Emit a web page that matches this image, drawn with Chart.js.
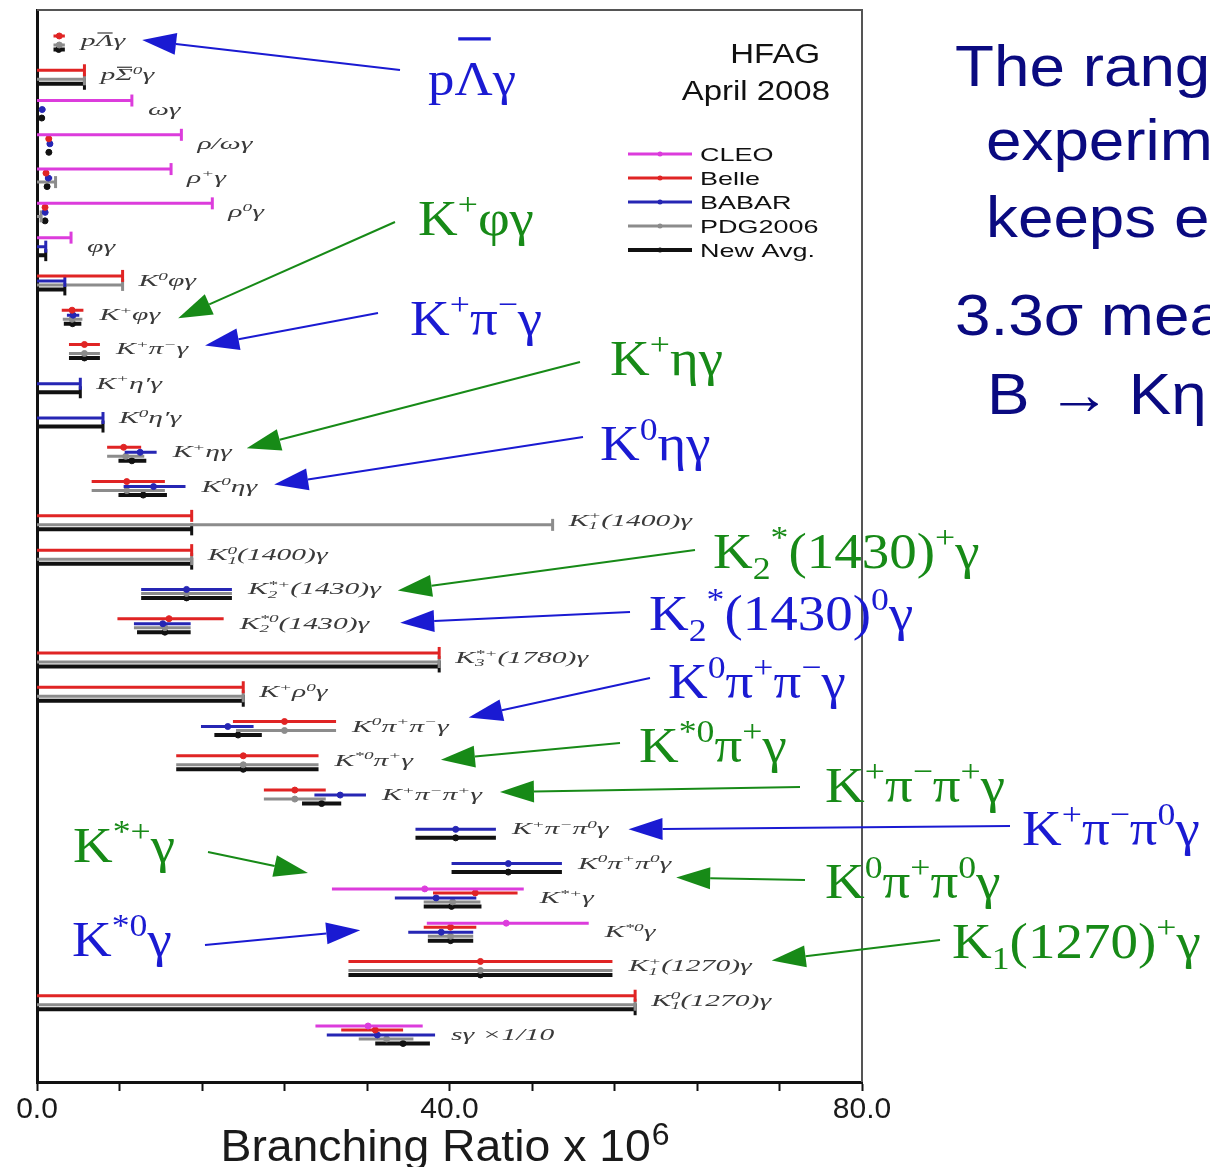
<!DOCTYPE html>
<html>
<head>
<meta charset="utf-8">
<title>Radiative penguin B decays - branching ratios</title>
<script src="https://cdn.jsdelivr.net/npm/chart.js@4.4.1/dist/chart.umd.min.js"></script>
<style>
    html, body { margin: 0; padding: 0; background: #ffffff; }
    #myChart { display: block; width: 1210px; height: 1167px; }
</style>
</head>
<body>
<canvas id="myChart" width="1210" height="1167"></canvas>
<script>

// decay modes, top to bottom (^{..} superscript, _{..} subscript, ~{..} overline)
const modos = [
    'p~{Λ}γ', 'p~{Σ}^{0}γ', 'ωγ', 'ρ/ωγ', 'ρ^{+}γ', 'ρ^{0}γ', 'φγ', 'K^{0}φγ', 'K^{+}φγ', 'K^{+}π^{−}γ',
    'K^{+}η′γ', 'K^{0}η′γ', 'K^{+}ηγ', 'K^{0}ηγ', 'K_{1}^{+}(1400)γ', 'K_{1}^{0}(1400)γ',
    'K_{2}^{*+}(1430)γ', 'K_{2}^{*0}(1430)γ', 'K_{3}^{*+}(1780)γ', 'K^{+}ρ^{0}γ',
    'K^{0}π^{+}π^{−}γ', 'K^{*0}π^{+}γ', 'K^{+}π^{−}π^{+}γ', 'K^{+}π^{−}π^{0}γ', 'K^{0}π^{+}π^{0}γ',
    'K^{*+}γ', 'K^{*0}γ', 'K_{1}^{+}(1270)γ', 'K_{1}^{0}(1270)γ', 'sγ ×1/10'
];

// [low, central, high] is a measurement, a plain number is an upper limit (x 10^-6)
const cleo = [
    null, null, 9.2, 14, 13, 17, 3.3, null, null, null,
    null, null, null, null, null, null, null, null, null, null,
    null, null, null, null, null, [28.6, 37.6, 47.2], [37.8, 45.5, 53.5], null, null, [27.0, 32.1, 37.4]
];
const belle = [
    [1.6, 2.16, 2.7], 4.6, null, [0.9, 1.14, 1.4], [0.6, 0.87, 1.17], [0.62, 0.78, 0.95], null, 8.3, [2.4, 3.4, 4.5], [3.1, 4.6, 6.1],
    null, null, [6.8, 8.4, 10.1], [5.3, 8.7, 12.4], 15, 15, null, [7.8, 12.8, 18.1], 39, 20,
    [19.0, 24.0, 29.0], [13.5, 20.0, 27.3], [22.0, 25.0, 28.0], null, null, [38.4, 42.5, 46.6], [37.5, 40.1, 42.6], [30.2, 43.0, 55.8], 58, [29.5, 32.8, 35.5]
];
const babar = [
    null, null, [0.27, 0.5, 0.8], [0.99, 1.25, 1.51], [0.77, 1.1, 1.47], [0.59, 0.79, 1.01], 0.85, 2.7, [2.9, 3.5, 4.1], null,
    4.2, 6.4, [8.5, 10.0, 11.6], [8.4, 11.3, 14.4], null, null, [10.1, 14.5, 18.9], [9.4, 12.2, 14.9], null, null,
    [15.9, 18.5, 21.0], null, [26.9, 29.4, 31.9], [36.7, 40.6, 44.5], [40.2, 45.7, 50.9], [34.7, 38.7, 42.6], [36.0, 39.2, 42.3], null, null, [28.1, 33.0, 38.6]
];
const pdg2006 = [
    [1.6, 2.16, 2.7], 4.6, null, null, 1.8, 0.4, null, 8.3, [2.5, 3.4, 4.4], [3.1, 4.6, 6.1],
    null, null, [6.8, 8.6, 10.4], [5.3, 8.7, 12.4], 50, 15, [10.1, 14.5, 18.9], [9.4, 12.4, 14.9], 39, 20,
    [19.3, 24.0, 29.0], [13.5, 20.0, 27.3], [22.0, 25.0, 28.0], null, null, [37.5, 40.3, 43.0], [37.9, 40.1, 42.3], [30.2, 43.0, 55.8], 58, [31.2, 33.9, 36.5]
];
const nuevoProm = [
    [1.6, 2.1, 2.7], 4.6, [0.3, 0.46, 0.65], [0.98, 1.15, 1.33], [0.74, 0.98, 1.23], [0.65, 0.78, 0.92], 0.85, 2.7, [2.6, 3.45, 4.3], [3.1, 4.6, 6.1],
    4.2, 6.4, [7.9, 9.2, 10.6], [7.9, 10.3, 12.6], 15, 15, [10.1, 14.5, 18.9], [9.7, 12.4, 14.9], 39, 20,
    [17.2, 19.5, 21.8], [13.5, 20.0, 27.3], [25.7, 27.6, 29.5], [36.7, 40.6, 44.5], [40.2, 45.7, 50.9], [37.5, 40.2, 43.1], [37.9, 40.1, 42.3], [30.2, 43.0, 55.8], 58, [32.8, 35.5, 38.1]
];

const xTicks = [0, 40, 80];

const azul = '#1a1ad2';
const verde = '#178a17';

const series = [
    { label: 'CLEO', data: cleo, color: '#dc3cdc', width: 3, off: -0.263 },
    { label: 'Belle', data: belle, color: '#e02424', width: 3, off: -0.146 },
    { label: 'BABAR', data: babar, color: '#2626b4', width: 3, off: 0 },
    { label: 'PDG2006', data: pdg2006, color: '#8c8c8c', width: 3, off: 0.117 },
    { label: 'New Avg.', data: nuevoProm, color: '#111111', width: 4, off: 0.248 }
];

// big callouts with arrows; tip is taken from the row label (or the row start)
const notas = [
    { row: 0, text: 'p~{Λ}γ', color: azul, x: 428, y: 95, size: 48, tail: [400, 70], dx: 17, dy: -1 },
    { row: 8, text: 'K^{+}φγ', color: verde, x: 418, y: 235, tail: [395, 222], dx: 18, dy: 3 },
    { row: 9, text: 'K^{+}π^{−}γ', color: azul, x: 410, y: 335, tail: [378, 313], dx: 17, dy: -4 },
    { row: 12, text: 'K^{+}ηγ', color: verde, x: 610, y: 375, tail: [580, 362], dx: 15, dy: -4 },
    { row: 13, text: 'K^{0}ηγ', color: azul, x: 600, y: 460, tail: [583, 437], dx: 17, dy: -2 },
    { row: 16, text: 'K_{2}^{*}(1430)^{+}γ', color: verde, x: 713, y: 568, tail: [695, 550], dx: 17, dy: 1 },
    { row: 17, text: 'K_{2}^{*}(1430)^{0}γ', color: azul, x: 649, y: 630, tail: [630, 612], dx: 31, dy: -1 },
    { row: 20, text: 'K^{0}π^{+}π^{−}γ', color: azul, x: 668, y: 698, tail: [650, 678], dx: 20, dy: -9 },
    { row: 21, text: 'K^{*0}π^{+}γ', color: verde, x: 639, y: 762, tail: [620, 743], dx: 28, dy: -1 },
    { row: 22, text: 'K^{+}π^{−}π^{+}γ', color: verde, x: 825, y: 802, tail: [800, 787], dx: 18, dy: -3 },
    { row: 23, text: 'K^{+}π^{−}π^{0}γ', color: azul, x: 1022, y: 845, tail: [1010, 826], dx: 20, dy: 0 },
    { row: 24, text: 'K^{0}π^{+}π^{0}γ', color: verde, x: 825, y: 898, tail: [805, 880], dx: 5, dy: 14 },
    { row: 27, text: 'K_{1}(1270)^{+}γ', color: verde, x: 952, y: 958, tail: [940, 940], dx: 20, dy: -6 },
    { row: 25, text: 'K^{*+}γ', color: verde, x: 73, y: 862, tail: [208, 852], from: 'start', dx: -24, dy: -25 },
    { row: 26, text: 'K^{*0}γ', color: azul, x: 72, y: 956, tail: [205, 945], from: 'start', dx: -48, dy: -2 }
];

const textoLado = [
    { t: 'The rang', x: 955, y: 86 },
    { t: 'experim', x: 986, y: 160 },
    { t: 'keeps ex', x: 986, y: 237 },
    { t: '3.3σ mea', x: 955, y: 335 },
    { t: 'B → Kη', x: 987, y: 414 }
];

var finEtiqueta = [];

function armarPuntos(valores, off) {
    var pts = [];
    valores.forEach(function (v, i) {
        if (v === null) return;
        var y = i + off;
        if (Array.isArray(v)) {
            pts.push({ x: v[0], y: y }, { x: v[1], y: y, m: 'c' }, { x: v[2], y: y });
        } else {
            pts.push({ x: 0, y: y }, { x: v, y: y, m: 'cap' });
        }
        pts.push({ x: null, y: null });
    });
    return pts;
}

function extremos(i) {
    var lo = Infinity, hi = -Infinity;
    series.forEach(function (s) {
        var v = s.data[i];
        if (v === null) return;
        if (Array.isArray(v)) { lo = Math.min(lo, v[0]); hi = Math.max(hi, v[2]); }
        else { lo = 0; hi = Math.max(hi, v); }
    });
    return { lo: lo, hi: hi };
}

function trozos(s) {
    var out = [];
    var re = /(\^\{[^}]*\}|_\{[^}]*\}|~\{[^}]*\}|[^^_~]+)/g;
    var m;
    while ((m = re.exec(s)) !== null) {
        var t = m[0];
        if (t[0] === '^') out.push({ t: t.slice(2, -1), k: 'sup' });
        else if (t[0] === '_') out.push({ t: t.slice(2, -1), k: 'sub' });
        else if (t[0] === '~') out.push({ t: t.slice(2, -1), k: 'bar' });
        else out.push({ t: t, k: 'n' });
    }
    return out;
}

// draws text with sub/superscripts, returns the width in pixels
function textoRico(ctx, s, x, y, o) {
    var sx = o.sx || 1;
    var chico = o.size * 0.65;
    var fuente = function (px) { return (o.italic ? 'italic ' : '') + px + 'px ' + o.family; };
    var cx = 0, subIni = null, subW = 0;
    ctx.save();
    ctx.translate(x, y);
    ctx.scale(sx, 1);
    ctx.fillStyle = o.color;
    ctx.strokeStyle = o.color;
    ctx.textBaseline = 'alphabetic';
    ctx.textAlign = 'left';
    trozos(s).forEach(function (p) {
        if (p.k === 'n' || p.k === 'bar') {
            ctx.font = fuente(o.size);
            var w = ctx.measureText(p.t).width;
            ctx.fillText(p.t, cx, 0);
            if (p.k === 'bar') {
                ctx.lineWidth = Math.max(1.2, o.size * 0.07);
                ctx.beginPath();
                ctx.moveTo(cx + w * 0.1, -o.barRise);
                ctx.lineTo(cx + w * 0.95, -o.barRise);
                ctx.stroke();
            }
            cx += w;
            subIni = null;
        } else {
            ctx.font = fuente(chico);
            var w2 = ctx.measureText(p.t).width;
            var px = cx;
            var apilar = p.k === 'sup' && subIni !== null && o.stack;
            if (apilar) px = subIni;
            var dy = p.k === 'sup' ? -o.size * 0.4 : o.size * 0.22;
            ctx.fillText(p.t, px, dy);
            if (p.k === 'sub') { subIni = cx; subW = w2; cx += w2; }
            else { cx = apilar ? subIni + Math.max(subW, w2) : cx + w2; subIni = null; }
        }
    });
    ctx.restore();
    return cx * sx;
}

function flecha(ctx, x1, y1, x2, y2, color) {
    var ang = Math.atan2(y2 - y1, x2 - x1);
    var L = 34, W = 11;
    var bx = x2 - L * Math.cos(ang), by = y2 - L * Math.sin(ang);
    ctx.save();
    ctx.strokeStyle = color;
    ctx.fillStyle = color;
    ctx.lineWidth = 2;
    ctx.beginPath();
    ctx.moveTo(x1, y1);
    ctx.lineTo(bx, by);
    ctx.stroke();
    ctx.beginPath();
    ctx.moveTo(x2, y2);
    ctx.lineTo(bx + W * Math.sin(ang), by - W * Math.cos(ang));
    ctx.lineTo(bx - W * Math.sin(ang), by + W * Math.cos(ang));
    ctx.closePath();
    ctx.fill();
    ctx.restore();
}

function textoPlano(ctx, t, x, y, font, color, sx, align) {
    ctx.save();
    ctx.font = font;
    ctx.fillStyle = color;
    ctx.textBaseline = 'alphabetic';
    var w = ctx.measureText(t).width * sx;
    var x0 = align === 'right' ? x - w : (align === 'center' ? x - w / 2 : x);
    ctx.translate(x0, y);
    ctx.scale(sx, 1);
    ctx.fillText(t, 0, 0);
    ctx.restore();
    return w;
}

const marco = {
    id: 'marco',
    beforeDatasetsDraw: function (chart) {
        var a = chart.chartArea, ctx = chart.ctx;
        ctx.save();
        ctx.strokeStyle = '#555';
        ctx.lineWidth = 2;
        ctx.beginPath();
        ctx.moveTo(a.left, a.top);
        ctx.lineTo(a.right, a.top);
        ctx.lineTo(a.right, a.bottom);
        ctx.stroke();
        ctx.restore();
    },
    afterDatasetsDraw: function (chart) {
        var ctx = chart.ctx, xs = chart.scales.x, ys = chart.scales.y;
        modos.forEach(function (txt, i) {
            var x = xs.getPixelForValue(extremos(i).hi) + 16;
            var y = ys.getPixelForValue(i) + 5;
            var w = textoRico(ctx, txt, x, y, { size: 16, family: '"Liberation Serif", "DejaVu Serif", serif', italic: true,
                color: '#3a3a3a', sx: 1.85, stack: true, barRise: 13 });
            finEtiqueta[i] = x + w;
        });
    },
    afterDraw: function (chart) {
        var ctx = chart.ctx, a = chart.chartArea, xs = chart.scales.x, ys = chart.scales.y;

        // HFAG stamp and legend
        textoPlano(ctx, 'HFAG', a.right - 42, 63, '27px "Liberation Sans", Arial, sans-serif', '#111', 1.22, 'right');
        textoPlano(ctx, 'April 2008', a.right - 32, 100, '27px "Liberation Sans", Arial, sans-serif', '#111', 1.22, 'right');
        series.forEach(function (s, k) {
            var y = 154 + k * 24;
            var x0 = a.right - 234;
            ctx.save();
            ctx.strokeStyle = s.color;
            ctx.fillStyle = s.color;
            ctx.lineWidth = s.width;
            ctx.beginPath();
            ctx.moveTo(x0, y);
            ctx.lineTo(x0 + 64, y);
            ctx.stroke();
            ctx.beginPath();
            ctx.arc(x0 + 32, y, 2.5, 0, Math.PI * 2);
            ctx.fill();
            ctx.restore();
            textoPlano(ctx, s.label, x0 + 72, y + 7, '19px "Liberation Sans", Arial, sans-serif', '#111', 1.42, 'left');
        });

        // axis title
        ctx.save();
        ctx.font = '45px "Liberation Sans", Arial, sans-serif';
        var base = 'Branching Ratio x 10';
        var wb = ctx.measureText(base).width * 1.03;
        ctx.font = '32px "Liberation Sans", Arial, sans-serif';
        var ws = ctx.measureText('6').width;
        ctx.restore();
        var x0 = (a.left + a.right) / 2 - 5 - (wb + ws) / 2;
        textoPlano(ctx, base, x0, 1161, '45px "Liberation Sans", Arial, sans-serif', '#1a1a1a', 1.03, 'left');
        textoPlano(ctx, '6', x0 + wb + 1, 1145, '32px "Liberation Sans", Arial, sans-serif', '#1a1a1a', 1, 'left');

        // callouts
        notas.forEach(function (n) {
            var yFila = ys.getPixelForValue(n.row);
            var tx = n.from === 'start' ? xs.getPixelForValue(extremos(n.row).lo) + n.dx : finEtiqueta[n.row] + n.dx;
            flecha(ctx, n.tail[0], n.tail[1], tx, yFila + n.dy, n.color);
            var size = n.size || 50;
            textoRico(ctx, n.text, n.x, n.y, { size: size, family: '"Liberation Serif", "DejaVu Serif", serif', italic: false,
                color: n.color, sx: 1.1, stack: false, barRise: size * 1.17 });
        });

        // slide text at the right edge
        textoLado.forEach(function (l) {
            textoPlano(ctx, l.t, l.x, l.y, '58px "Liberation Sans", Arial, sans-serif', '#0a0a80', 1.1, 'left');
        });
    }
};

const datasets = series.map(function (s) {
    return {
        label: s.label,
        data: armarPuntos(s.data, s.off),
        borderColor: s.color,
        backgroundColor: s.color,
        borderWidth: s.width,
        tension: 0,
        fill: false,
        spanGaps: false,
        pointStyle: function (c) { return c.raw && c.raw.m === 'cap' ? 'line' : 'circle'; },
        pointRotation: function (c) { return c.raw && c.raw.m === 'cap' ? 90 : 0; },
        pointRadius: function (c) {
            var m = c.raw && c.raw.m;
            return m === 'c' ? 3 : (m === 'cap' ? 6 : 0);
        },
        pointBorderWidth: function (c) { return c.raw && c.raw.m === 'cap' ? 3 : 1; },
        pointBackgroundColor: s.color,
        pointBorderColor: s.color,
        pointHoverRadius: 0,
        pointHitRadius: 0
    };
});

var myChart = new Chart(document.getElementById('myChart'), {
    type: 'line',
    data: { datasets: datasets },
    options: {
        responsive: false,
        animation: false,
        events: [],
        layout: { padding: { left: 37, right: 348, top: 10, bottom: 0 } },
        scales: {
            x: {
                type: 'linear',
                min: 0,
                max: 80,
                afterFit: function (s) { s.height = 85; },
                ticks: {
                    stepSize: 8,
                    autoSkip: false,
                    maxRotation: 0,
                    padding: 1,
                    color: '#1a1a1a',
                    font: { family: '"Liberation Sans", Arial, sans-serif', size: 30 },
                    callback: function (v) { return xTicks.indexOf(v) >= 0 ? v.toFixed(1) : ''; }
                },
                grid: { display: true, drawOnChartArea: false, drawTicks: true, tickLength: 9, tickWidth: 2, tickColor: '#111' },
                border: { display: true, color: '#111', width: 3 }
            },
            y: {
                type: 'linear',
                reverse: true,
                min: -0.904,
                max: 30.371,
                afterFit: function (s) { s.width = 0; },
                ticks: { display: false },
                grid: { display: false },
                border: { display: true, color: '#111', width: 3 }
            }
        },
        plugins: {
            legend: { display: false },
            tooltip: { enabled: false }
        }
    },
    plugins: [marco]
});

</script>
</body>
</html>
